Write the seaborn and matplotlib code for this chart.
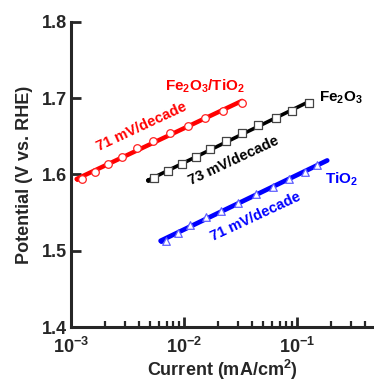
import numpy as np
import pandas as pd
import matplotlib
matplotlib.use("Agg")
import matplotlib.pyplot as plt
import seaborn as sns
from matplotlib.ticker import LogLocator, NullFormatter

# Tafel data (current in mA/cm2, potential in V vs RHE)
fe_ti_current = [0.00125, 0.00163, 0.00212, 0.00283, 0.00384, 0.00532,
                 0.00752, 0.01084, 0.01535, 0.02213, 0.0326]
fe_ti_potential = [1.594, 1.603, 1.614, 1.623, 1.635, 1.644,
                   1.654, 1.663, 1.674, 1.683, 1.694]

fe_current = [0.00543, 0.00721, 0.00959, 0.01276, 0.01698, 0.02355,
              0.0326, 0.0452, 0.0652, 0.0903, 0.1276]
fe_potential = [1.595, 1.604, 1.614, 1.623, 1.633, 1.644,
                1.654, 1.665, 1.674, 1.683, 1.694]

ti_current = [0.00693, 0.00885, 0.0113, 0.01567, 0.02123, 0.03006,
              0.04335, 0.0614, 0.0849, 0.1177, 0.1503]
ti_potential = [1.513, 1.523, 1.534, 1.544, 1.552, 1.563,
                1.574, 1.583, 1.594, 1.603, 1.612]

# range of each Tafel fit line
fe_ti_fit_range = [0.00112, 0.0326]
fe_fit_range = [0.0048, 0.1276]
ti_fit_range = [0.0062, 0.185]

sns.set_theme(style="ticks")
plt.rcParams['font.family'] = ['Liberation Sans', 'DejaVu Sans']
plt.rcParams['font.weight'] = 'bold'
plt.rcParams['mathtext.fontset'] = 'custom'
plt.rcParams['mathtext.rm'] = 'Liberation Sans:bold'
plt.rcParams['mathtext.bf'] = 'Liberation Sans:bold'
plt.rcParams['mathtext.it'] = 'Liberation Sans:bold'
plt.rcParams['mathtext.default'] = 'bf'

fig = plt.figure(figsize=(3.74, 3.83), dpi=100)
ax = fig.add_axes([0.19, 0.146, 0.81, 0.797])


def fit_line(cur, pot, rng):
    k, b = np.polyfit(np.log10(cur), pot, 1)
    xs = np.array(rng)
    return pd.DataFrame({'x': xs, 'y': k * np.log10(xs) + b})


series = [
    (fe_ti_current, fe_ti_potential, fe_ti_fit_range, '#ff0000', 'o', '#ff2020', 3.2),
    (fe_current, fe_potential, fe_fit_range, '#000000', 's', '#444444', 2.6),
    (ti_current, ti_potential, ti_fit_range, '#0000ff', '^', '#6060ff', 3.4),
]
for cur, pot, rng, col, mk, edge, lw in series:
    fl = fit_line(cur, pot, rng)
    sns.lineplot(data=fl, x='x', y='y', color=col, linewidth=lw, ax=ax,
                 sort=False, estimator=None)
    ax.plot(rng[0], fl['y'].iloc[0], 'o', color=col, markersize=2.5)
    sns.scatterplot(x=cur, y=pot, marker=mk, s=30, facecolor='white',
                    edgecolor=edge, linewidth=0.9, ax=ax, zorder=5)

ax.set_xscale('log')
ax.set_xlim(1e-3, 0.48)
ax.set_ylim(1.4, 1.8)
ax.set_yticks([1.4, 1.5, 1.6, 1.7, 1.8])
ax.set_yticklabels(['1.4', '1.5', '1.6', '1.7', '1.8'])
ax.set_xticks([1e-3, 1e-2, 1e-1])
ax.set_xticklabels([r'$10^{-3}$', r'$10^{-2}$', r'$10^{-1}$'])
ax.xaxis.set_minor_locator(LogLocator(base=10, subs=np.arange(2, 10), numticks=20))
ax.xaxis.set_minor_formatter(NullFormatter())

for s in ['top', 'right']:
    ax.spines[s].set_visible(False)
for s in ['left', 'bottom']:
    ax.spines[s].set_linewidth(2.2)
ax.tick_params(which='major', direction='in', length=7, width=2,
               labelsize=13, pad=3)
ax.tick_params(axis='x', which='major', pad=7)
ax.tick_params(which='minor', direction='in', length=4, width=1.6)

ax.set_xlabel(r'Current (mA/cm$^2$)', fontsize=13, fontweight='bold', labelpad=1)
ax.set_ylabel('Potential (V vs. RHE)', fontsize=13, fontweight='bold', labelpad=6)

# annotations
ax.text(0.0154, 1.716, r'Fe$_2$O$_3$/TiO$_2$', color='#ff0000', fontsize=11,
        ha='center', va='center')
ax.text(0.0042, 1.663, '71 mV/decade', color='#ff0000', fontsize=10.5,
        ha='center', va='center', rotation=25)
ax.text(0.245, 1.701, r'Fe$_2$O$_3$', color='black', fontsize=11,
        ha='center', va='center')
ax.text(0.0275, 1.618, '73 mV/decade', color='black', fontsize=10.5,
        ha='center', va='center', rotation=25)
ax.text(0.25, 1.593, r'TiO$_2$', color='#0000ff', fontsize=11,
        ha='center', va='center')
ax.text(0.0434, 1.545, '71 mV/decade', color='#0000ff', fontsize=10.5,
        ha='center', va='center', rotation=25)

fig.savefig('out.png', dpi=100)
